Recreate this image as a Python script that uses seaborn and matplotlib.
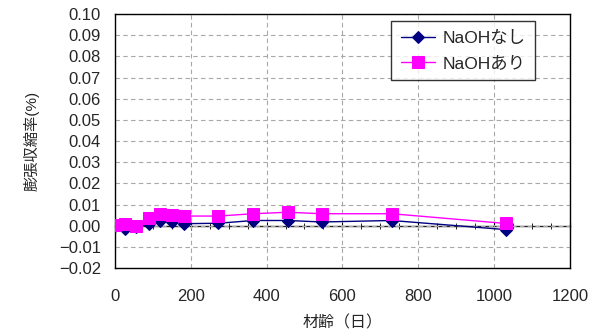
import numpy as np
import pandas as pd
import matplotlib
matplotlib.use("Agg")
import matplotlib.pyplot as plt
import seaborn as sns
from matplotlib.ticker import MultipleLocator

# データ
days = [0, 28, 56, 91, 120, 150, 182, 273, 365, 456, 546, 730, 1030]
naoh_nashi = [0.0, -0.0015, -0.0005, 0.0008, 0.0025, 0.0018, 0.0010, 0.0012,
              0.0025, 0.0025, 0.0018, 0.0025, -0.0018]
naoh_ari = [0.0005, 0.0010, 0.0, 0.0039, 0.0057, 0.0051, 0.0046, 0.0046,
            0.0057, 0.0064, 0.0057, 0.0057, 0.0011]
series_names = ["NaOHなし", "NaOHあり"]

df = pd.DataFrame({
    "day": days * 2,
    "value": naoh_nashi + naoh_ari,
    "series": [series_names[0]] * len(days) + [series_names[1]] * len(days),
})

sns.set_style("white")
plt.rcParams["font.family"] = ["Liberation Sans", "Noto Sans CJK JP", "DejaVu Sans"]

fig = plt.figure(figsize=(5.95, 3.36), dpi=100)
ax = fig.add_axes([0.193, 0.202, 0.765, 0.756])

colors = {"NaOHなし": "#000080", "NaOHあり": "#FF00FF"}
markers = {"NaOHなし": "D", "NaOHあり": "s"}
sizes = {"NaOHなし": 6.5, "NaOHあり": 8}

for name in series_names:
    sub = df[df["series"] == name]
    sns.lineplot(data=sub, x="day", y="value", ax=ax, color=colors[name],
                 marker=markers[name], markersize=sizes[name],
                 markeredgecolor=colors[name], linewidth=1.0,
                 sort=False, label=name, zorder=3)

ax.set_xlim(0, 1200)
ax.set_ylim(-0.02, 0.10)
ax.xaxis.set_major_locator(MultipleLocator(200))
ax.yaxis.set_major_locator(MultipleLocator(0.01))
ax.yaxis.set_major_formatter(matplotlib.ticker.FuncFormatter(
    lambda v, p: f"{v:.2f}".replace("-", "\u2212")))

ax.grid(True, color="#A8A8A8", linestyle=(0, (4, 3)), linewidth=0.8)
for s in ax.spines.values():
    s.set_color("black")
    s.set_linewidth(1.0)

ax.tick_params(axis="y", direction="in", length=4, labelsize=12, pad=10,
               color="black")
ax.tick_params(axis="x", length=0, labelsize=12, pad=15)

# ゼロ線の目盛り
sec = ax.secondary_xaxis(1 / 6)
sec.xaxis.set_major_locator(MultipleLocator(200))
sec.xaxis.set_minor_locator(MultipleLocator(50))
sec.tick_params(which="major", direction="inout", length=6, labelbottom=False,
                color="black")
sec.tick_params(which="minor", direction="inout", length=4, color="black")
sec.spines["bottom"].set_linewidth(1.0)

ax.set_xlabel("材齢（日）", fontsize=11.5, labelpad=8)
ax.set_ylabel("膨張収縮率(%)", fontsize=11, labelpad=14)

leg = ax.legend(loc="upper right", bbox_to_anchor=(0.923, 0.972), borderaxespad=0,
                fontsize=12.5, frameon=True, fancybox=False, edgecolor="black",
                handlelength=2.0, handletextpad=0.4, borderpad=0.55,
                labelspacing=0.55)
leg.get_frame().set_linewidth(1.0)

fig.savefig("out.png", dpi=100)
